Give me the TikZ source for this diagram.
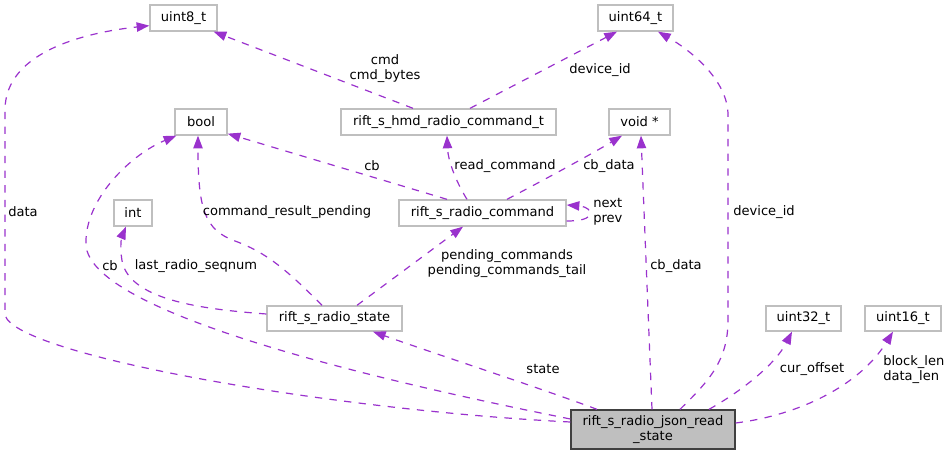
\documentclass[tikz,border=0pt]{standalone}
\usepackage{fontspec}
\setmainfont{DejaVu Sans}
\usetikzlibrary{arrows.meta,calc}
\definecolor{edgec}{HTML}{9A32CD}
\definecolor{boxc}{HTML}{BFBFBF}
\definecolor{mainc}{HTML}{404040}
\begin{document}
\begin{tikzpicture}[x=0.75pt,y=-0.75pt,
  font=\fontsize{9.8pt}{11.25pt}\selectfont,
  box/.style={draw=boxc, line width=1pt, minimum height=19.5pt, inner sep=0pt, fill=white},
  mainbox/.style={draw=mainc, line width=1pt, fill=boxc, minimum height=29.25pt, inner sep=0pt, align=center},
  dep/.style={draw=edgec, line width=0.9pt, dash pattern=on 5.5pt off 5.5pt, -{Triangle[length=9.5pt,width=7pt,fill=edgec]}},
  lbl/.style={inner sep=0pt, align=center},
  lbll/.style={inner sep=0pt, align=left}]
\useasboundingbox (0,0) rectangle (951,456);

% nodes
\node[box, minimum width=67*0.75pt] (u8) at (183.5,18) {uint8\_t};
\node[box, minimum width=75*0.75pt] (u64) at (635.5,18) {uint64\_t};
\node[box, minimum width=52*0.75pt] (bool) at (201,122) {bool};
\node[box, minimum width=215*0.75pt] (hmd) at (448.5,122) {rift\_s\_hmd\_radio\_command\_t};
\node[box, minimum width=61*0.75pt] (void) at (639.5,122) {void *};
\node[box, minimum width=38*0.75pt] (int) at (133,213) {int};
\node[box, minimum width=167*0.75pt] (cmd) at (482.5,213) {rift\_s\_radio\_command};
\node[box, minimum width=135*0.75pt, minimum height=18.75pt] (state) at (334.5,318.5) {rift\_s\_radio\_state};
\node[box, minimum width=75*0.75pt, minimum height=18.75pt] (u32) at (803.5,318.5) {uint32\_t};
\node[box, minimum width=76*0.75pt, minimum height=18.75pt] (u16) at (903,318.5) {uint16\_t};
\node[mainbox, minimum width=164*0.75pt] (R) at (653,429.5) {rift\_s\_radio\_json\_read\\\_state};

% edges from R
\draw[dep] ($(R.west)+(0,-7.5)$) .. controls (330,410) and (15,355) .. (5,315)
  -- (5,110) .. controls (5,50) and (90,32) .. ($(u8.south west)+(0,-6)$);
\draw[dep] ($(R.west)+(0,-10.5)$) .. controls (350,375) and (90,310) .. (86,245)
  .. controls (84,200) and (130,155) .. ($(bool.south west)+(2,0)$);
\draw[dep] ($(R.north)+(-56,0)$) .. controls (540,388) and (430,352) .. ($(state.south)+(38.5,0)$);
\draw[dep] ($(R.north)+(-1,0)$) -- ($(void.south)+(1.5,0)$);
\draw[dep] ($(R.north)+(27,0)$) .. controls (710,380) and (728,360) .. (728,320)
  -- (728,115) .. controls (728,80) and (690,50) .. ($(u64.south)+(22.5,0)$);
\draw[dep] ($(R.north)+(56,0)$) .. controls (740,392) and (775,365) .. ($(u32.south)+(-11.5,0)$);
\draw[dep] ($(R.east)+(0,-6.5)$) .. controls (800,415) and (860,385) .. ($(u16.south)+(-10,0)$);

% edges from state
\draw[dep] ($(state.west)+(0,-4.5)$) .. controls (200,309) and (135,300) .. (123,265)
  .. controls (119,250) and (122,236) .. ($(int.south)+(-7,0)$);
\draw[dep] ($(state.north)+(-12.5,0)$) .. controls (285,268) and (265,252) .. (235,241)
  .. controls (205,230) and (198,210) .. ($(bool.south)+(-3,0)$);
\draw[dep] ($(state.north)+(22.5,0)$) -- ($(cmd.south)+(-19.5,0)$);

% edges from cmd
\draw[dep] ($(cmd.north)+(-35.5,0)$) -- ($(bool.south east)+(0,-2)$);
\draw[dep] ($(cmd.north)+(-15.5,0)$) .. controls (455,180) and (448,160) .. ($(hmd.south)+(-1.5,0)$);
\draw[dep] ($(cmd.north)+(24.5,0)$) .. controls (540,182) and (590,155) .. ($(void.south)+(-17.5,0)$);
\draw[dep] ($(cmd.east)+(0,8)$) .. controls (580,221) and (590,219) .. (590,213)
  .. controls (590,207) and (580,206) .. ($(cmd.east)+(0,-8)$);

% edges from hmd
\draw[dep] ($(hmd.north)+(-35.5,0)$) -- ($(u8.south east)+(-4,0)$);
\draw[dep] ($(hmd.north)+(21.5,0)$) -- ($(u64.south)+(-18.5,0)$);

% labels
\node[lbl] (l1) at (23,212) {data};
\node[lbl] (l2) at (110,266) {cb};
\node[lbl] (l3) at (196,266) {last\_radio\_seqnum};
\node[lbl] (l4) at (287,212) {command\_result\_pending};
\node[lbl] (l5) at (372,166) {cb};
\node[lbl] (l6) at (505,166) {read\_command};
\node[lbl] (l7) at (609,166) {cb\_data};
\node[lbl] (l8) at (385,69) {cmd\\cmd\_bytes};
\node[lbl] (l9) at (600,70) {device\_id};
\node[lbll, anchor=west] (l10) at (593,212) {next\\prev};
\node[lbl] (l11) at (507,264) {pending\_commands\\pending\_commands\_tail};
\node[lbl] (l12) at (676,266) {cb\_data};
\node[lbl] (l13) at (764,212) {device\_id};
\node[lbl] (l14) at (543,369) {state};
\node[lbl] (l15) at (812,369) {cur\_offset};
\node[lbll, anchor=west] (l16) at (883,370) {block\_len\\data\_len};
\end{tikzpicture}
\end{document}
